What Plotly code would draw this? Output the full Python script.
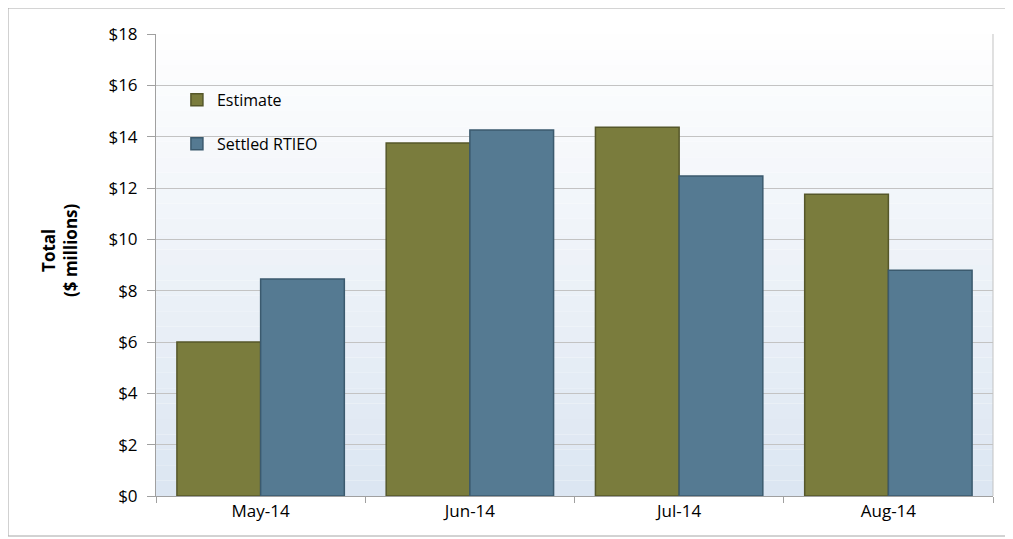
import plotly.graph_objects as go

months = ["May-14", "Jun-14", "Jul-14", "Aug-14"]
estimate = [6.0, 13.75, 14.37, 11.76]
settled = [8.45, 14.26, 12.47, 8.8]
tick_vals = [0, 2, 4, 6, 8, 10, 12, 14, 16, 18]
tick_text = ["$0", "$2", "$4", "$6", "$8", "$10", "$12", "$14", "$16", "$18"]

FONT = "'Open Sans', Lato, sans-serif"

fig = go.Figure()
fig.add_trace(go.Bar(
    x=months, y=estimate, name="Estimate", legendgroup="a",
    marker=dict(color="#7a7c3d", line=dict(color="#55572a", width=1.5)),
))
fig.add_trace(go.Bar(
    x=months, y=settled, name="Settled RTIEO", legendgroup="b",
    marker=dict(color="#557a92", line=dict(color="#3b5a6e", width=1.5)),
))

# vertical gradient background for the plot area
shapes = []
n = 30
top = (255, 255, 255)
bot = (220, 230, 242)
for i in range(n):
    t = (i + 0.5) / n
    r = int(bot[0] + (top[0] - bot[0]) * t)
    g = int(bot[1] + (top[1] - bot[1]) * t)
    b = int(bot[2] + (top[2] - bot[2]) * t)
    shapes.append(dict(type="rect", xref="x domain", yref="y domain",
                       x0=0, x1=1, y0=i / n, y1=(i + 1) / n,
                       fillcolor=f"rgb({r},{g},{b})", line=dict(width=0),
                       layer="below"))
# outer chart border
shapes.append(dict(type="rect", xref="paper", yref="paper",
                   x0=-0.1768, x1=1.024, y0=-0.0866, y1=1.0563,
                   line=dict(color="#a6a6a6", width=1), fillcolor="rgba(0,0,0,0)"))
# right edge of plot area
shapes.append(dict(type="line", xref="x domain", yref="y domain", x0=1, x1=1, y0=0, y1=1,
                   line=dict(color="#c3c3c3", width=1)))

fig.update_layout(
    width=1013, height=539,
    margin=dict(l=148, r=28, t=26, b=51),
    paper_bgcolor="white",
    plot_bgcolor="rgba(0,0,0,0)",
    barmode="group", bargap=0.2, bargroupgap=0,
    font=dict(family=FONT, size=15, color="#000000"),
    shapes=shapes,
    showlegend=True,
    legend=dict(x=0.025, y=0.894, xanchor="left", yanchor="top",
                bgcolor="rgba(0,0,0,0)", font=dict(size=16),
                tracegroupgap=20, traceorder="grouped",
                itemwidth=30),
    annotations=[dict(text="<b>Total<br>($ millions)</b>", textangle=-90,
                      xref="paper", yref="paper", x=-0.1147, y=0.5325,
                      xanchor="center", yanchor="middle", showarrow=False,
                      font=dict(size=17))],
    yaxis=dict(range=[0, 18], tickvals=tick_vals, ticktext=tick_text,
               showgrid=True, gridcolor="#c3c3c3", gridwidth=1,
               showline=True, linecolor="#a0a0a0", linewidth=1,
               ticks="outside", ticklen=8, tickcolor="#a0a0a0",
               tickfont=dict(size=17), zeroline=False, ticklabelstandoff=6),
    xaxis=dict(showline=True, linecolor="#a0a0a0", linewidth=1,
               ticks="outside", tickson="boundaries", ticklen=6, tickcolor="#a0a0a0",
               tickfont=dict(size=17), showgrid=False),
)

fig.write_html("out.html")
